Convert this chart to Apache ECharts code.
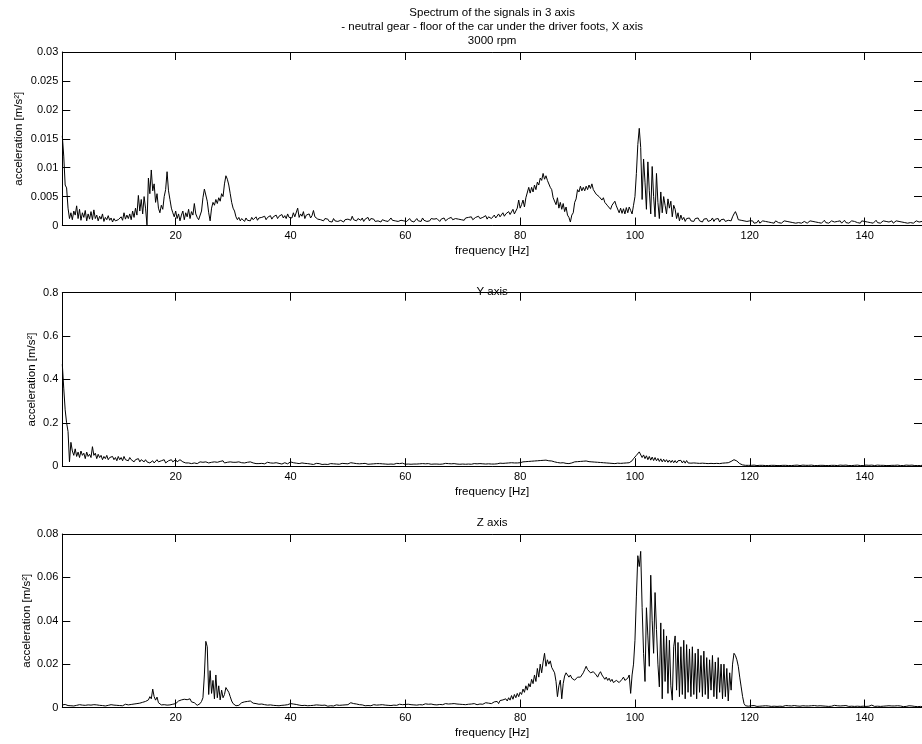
<!DOCTYPE html>
<html><head><meta charset="utf-8">
<script src="https://cdn.jsdelivr.net/npm/echarts@6/dist/echarts.min.js"></script>
<style>html,body{margin:0;padding:0;background:#fff}#c{width:922px;height:744px}</style>
</head><body><div id="c"></div>
<script>
// frequency grid of the spectra (Hz)
const freqStart = 0.25, freqStep = 0.25;
const xTicks = [20, 40, 60, 80, 100, 120, 140];

// X axis spectrum [m/s^2], 0.25 Hz steps, 20 values per 5 Hz row
const accelX = [
.0155,.0120,.0070,.0065,.0030,.0012,.0022,.0010,.0025,.0018,.0034,.0012,.0028,.0009,.0022,.0014,.0026,.0008,.0020,.0011,
.0024,.0010,.0027,.0012,.0018,.0008,.0016,.0011,.0020,.0007,.0014,.0010,.0017,.0009,.0013,.0006,.0012,.0008,.0005,.0010,
.0007,.0015,.0009,.0022,.0011,.0018,.0012,.0020,.0010,.0025,.0014,.0030,.0018,.0052,.0025,.0045,.0020,.0050,.0030,.0001,
.0082,.0055,.0096,.0060,.0072,.0040,.0055,.0030,.0022,.0035,.0028,.0050,.0062,.0093,.0060,.0045,.0030,.0022,.0015,.0025,
.0012,.0020,.0008,.0018,.0025,.0010,.0022,.0015,.0028,.0012,.0024,.0018,.0038,.0020,.0014,.0010,.0012,.0025,.0048,.0063,
.0064,.0042,.0022,.0008,.0030,.0040,.0035,.0045,.0038,.0048,.0042,.0055,.0050,.0072,.0086,.0080,.0070,.0055,.0040,.0030,
.0025,.0015,.0010,.0014,.0008,.0012,.0010,.0007,.0013,.0009,.0012,.0008,.0014,.0010,.0011,.0015,.0009,.0013,.0010,.0014,
.0011,.0016,.0010,.0014,.0012,.0017,.0011,.0015,.0013,.0018,.0012,.0016,.0014,.0019,.0013,.0017,.0012,.0020,.0014,.0016,
.0013,.0022,.0015,.0018,.0030,.0014,.0020,.0016,.0024,.0012,.0018,.0015,.0020,.0013,.0017,.0026,.0015,.0018,.0011,.0014,
.0010,.0013,.0008,.0012,.0009,.0011,.0007,.0010,.0006,.0012,.0008,.0011,.0007,.0010,.0009,.0012,.0006,.0010,.0008,.0011,
.0014,.0009,.0016,.0010,.0013,.0008,.0012,.0015,.0009,.0013,.0007,.0011,.0010,.0014,.0008,.0012,.0009,.0011,.0007,.0010,
.0008,.0011,.0006,.0010,.0012,.0008,.0011,.0007,.0010,.0013,.0009,.0012,.0008,.0011,.0007,.0010,.0009,.0012,.0008,.0010,
.0007,.0010,.0012,.0008,.0011,.0006,.0009,.0012,.0008,.0010,.0007,.0013,.0009,.0011,.0007,.0010,.0008,.0012,.0009,.0011,
.0008,.0012,.0010,.0007,.0011,.0009,.0013,.0008,.0010,.0012,.0009,.0014,.0010,.0008,.0012,.0009,.0011,.0013,.0010,.0012,
.0009,.0013,.0010,.0014,.0011,.0015,.0010,.0012,.0014,.0011,.0016,.0012,.0010,.0014,.0012,.0017,.0011,.0015,.0013,.0012,
.0014,.0018,.0013,.0016,.0020,.0015,.0018,.0022,.0016,.0020,.0018,.0024,.0019,.0022,.0028,.0020,.0025,.0030,.0044,.0030,
.0036,.0044,.0032,.0048,.0050,.0066,.0056,.0066,.0058,.0070,.0062,.0075,.0070,.0082,.0078,.0090,.0080,.0086,.0078,.0080,
.0066,.0062,.0048,.0050,.0036,.0048,.0030,.0040,.0028,.0038,.0024,.0032,.0018,.0014,.0006,.0018,.0022,.0040,.0046,.0062,
.0058,.0068,.0060,.0066,.0060,.0068,.0062,.0070,.0064,.0072,.0062,.0062,.0054,.0057,.0050,.0053,.0044,.0048,.0040,.0042,
.0034,.0035,.0028,.0035,.0033,.0042,.0034,.0032,.0022,.0030,.0021,.0029,.0020,.0031,.0022,.0032,.0026,.0020,.0035,.0050,
.0090,.0140,.0168,.0135,.0045,.0115,.0075,.0028,.0110,.0060,.0020,.0102,.0050,.0015,.0090,.0040,.0012,.0058,.0022,.0050,
.0035,.0020,.0046,.0030,.0042,.0015,.0035,.0028,.0012,.0022,.0008,.0018,.0010,.0014,.0007,.0012,.0009,.0013,.0008,.0011,
.0007,.0012,.0009,.0013,.0008,.0010,.0006,.0011,.0008,.0012,.0007,.0010,.0009,.0013,.0007,.0011,.0008,.0012,.0006,.0010,
.0008,.0011,.0007,.0010,.0009,.0012,.0008,.0015,.0020,.0024,.0018,.0010,.0007,.0009,.0006,.0008,.0005,.0007,.0006,.0008,
.0005,.0008,.0004,.0007,.0005,.0009,.0004,.0006,.0008,.0005,.0007,.0004,.0006,.0009,.0005,.0007,.0004,.0008,.0006,.0005,
.0007,.0004,.0006,.0008,.0005,.0007,.0004,.0006,.0009,.0005,.0006,.0004,.0007,.0005,.0008,.0004,.0006,.0007,.0005,.0004,
.0006,.0008,.0005,.0007,.0004,.0006,.0008,.0005,.0007,.0004,.0006,.0009,.0005,.0007,.0004,.0006,.0008,.0005,.0006,.0004,
.0007,.0005,.0008,.0004,.0006,.0009,.0005,.0007,.0004,.0006,.0008,.0005,.0007,.0010,.0005,.0006,.0004,.0008,.0005,.0007,
.0004,.0006,.0008,.0005,.0007,.0004,.0006,.0009,.0005,.0007,.0004,.0006,.0008,.0005,.0007,.0004,.0006,.0005,.0008,.0004,
.0006,.0008,.0005,.0007,.0004,.0006,.0008,.0005,.0007,.0004,.0006,.0005,.0007,.0004,.0006,.0008,.0005,.0006,.0004,.0007
];

// Y axis spectrum [m/s^2]
const accelY = [
.47,.36,.26,.20,.16,.02,.11,.07,.05,.08,.045,.065,.04,.07,.05,.06,.035,.065,.045,.055,
.04,.09,.05,.06,.035,.055,.04,.05,.03,.045,.035,.05,.03,.04,.035,.045,.03,.04,.025,.045,
.03,.04,.025,.045,.03,.035,.025,.04,.03,.035,.02,.03,.025,.035,.02,.03,.025,.02,.03,.02,
.025,.015,.02,.025,.015,.02,.03,.02,.015,.025,.02,.03,.015,.02,.025,.02,.03,.02,.025,.03,
.02,.025,.03,.035,.02,.025,.015,.02,.015,.02,.012,.018,.015,.02,.012,.015,.02,.015,.018,.025,
.02,.028,.015,.02,.018,.015,.02,.012,.018,.015,.022,.018,.025,.015,.02,.018,.012,.02,.015,.018,
.012,.018,.015,.02,.012,.016,.02,.015,.012,.018,.014,.02,.012,.015,.018,.012,.015,.012,.016,.013,
.015,.011,.014,.018,.012,.015,.01,.014,.012,.016,.011,.013,.015,.01,.012,.016,.013,.011,.015,.02,
.012,.016,.01,.014,.018,.012,.01,.015,.011,.013,.009,.012,.014,.01,.012,.008,.011,.013,.009,.012,
.01,.008,.011,.009,.012,.008,.01,.012,.009,.011,.008,.01,.012,.009,.011,.013,.01,.012,.015,.011,
.013,.016,.012,.014,.01,.012,.015,.011,.009,.012,.01,.013,.011,.009,.012,.01,.014,.011,.009,.012,
.01,.012,.009,.011,.013,.01,.012,.009,.011,.01,.012,.009,.011,.013,.01,.012,.01,.014,.011,.009,
.011,.01,.012,.009,.011,.01,.012,.01,.009,.011,.01,.012,.009,.011,.01,.012,.011,.009,.011,.01,
.012,.01,.011,.009,.012,.01,.011,.013,.01,.012,.009,.011,.01,.012,.011,.01,.012,.009,.011,.01,
.011,.009,.012,.01,.011,.009,.01,.012,.01,.011,.009,.012,.01,.011,.013,.01,.012,.011,.013,.01,
.012,.01,.013,.011,.012,.014,.012,.013,.011,.014,.012,.015,.013,.016,.014,.015,.017,.015,.018,.016,
.018,.02,.019,.021,.02,.022,.021,.023,.022,.024,.023,.025,.024,.026,.025,.027,.026,.028,.027,.025,
.026,.024,.022,.02,.019,.017,.016,.015,.014,.016,.015,.013,.014,.012,.013,.015,.018,.02,.022,.021,
.023,.022,.024,.023,.022,.024,.023,.021,.022,.02,.021,.019,.02,.018,.019,.017,.018,.016,.017,.015,
.016,.014,.015,.013,.014,.012,.013,.014,.012,.013,.011,.014,.012,.015,.013,.016,.02,.025,.035,.04,
.05,.058,.066,.062,.04,.052,.035,.048,.03,.045,.028,.042,.026,.04,.025,.036,.022,.034,.02,.032,
.02,.03,.018,.028,.017,.027,.016,.026,.015,.025,.016,.027,.015,.025,.014,.026,.015,.024,.014,.022,
.015,.023,.014,.021,.013,.02,.014,.019,.013,.018,.012,.017,.013,.016,.012,.015,.013,.014,.012,.013,
.014,.013,.015,.014,.016,.018,.022,.027,.03,.028,.024,.018,.012,.008,.006,.005,.004,.005,.004,.005,
.004,.003,.005,.004,.003,.005,.004,.003,.004,.005,.003,.004,.003,.005,.004,.003,.004,.005,.003,.004,
.003,.005,.004,.003,.004,.005,.003,.004,.003,.005,.004,.003,.005,.004,.003,.004,.005,.003,.004,.003,
.004,.003,.005,.004,.003,.004,.003,.005,.004,.003,.004,.005,.003,.004,.003,.005,.004,.003,.004,.005,
.003,.004,.005,.003,.004,.003,.005,.004,.003,.004,.003,.005,.004,.003,.005,.004,.003,.004,.003,.004,
.005,.003,.004,.003,.005,.004,.003,.004,.005,.003,.004,.003,.004,.005,.003,.004,.003,.005,.004,.003,
.004,.003,.005,.004,.003,.004,.003,.004,.005,.003,.004,.003,.005,.004,.003,.004,.003,.004,.003,.004
];

// Z axis spectrum [m/s^2]
const accelZ = [
.0012,.0008,.0014,.0010,.0009,.0013,.0008,.0011,.0007,.0012,.0010,.0008,.0013,.0009,.0011,.0014,.0010,.0008,.0012,.0009,
.0011,.0007,.0013,.0009,.0012,.0008,.0010,.0014,.0009,.0011,.0007,.0012,.0010,.0008,.0013,.0009,.0011,.0007,.0010,.0012,
.0009,.0013,.0008,.0011,.0015,.0010,.0012,.0009,.0014,.0011,.0016,.0012,.0018,.0014,.0020,.0016,.0024,.0018,.0028,.0022,
.0035,.0050,.0040,.0085,.0050,.0034,.0048,.0022,.0016,.0012,.0009,.0013,.0008,.0011,.0007,.0012,.0009,.0015,.0011,.0018,
.0014,.0030,.0022,.0035,.0028,.0038,.0030,.0036,.0032,.0040,.0026,.0034,.0022,.0015,.0010,.0012,.0018,.0028,.0045,.0150,
.0305,.0280,.0060,.0170,.0065,.0125,.0040,.0150,.0045,.0100,.0035,.0080,.0045,.0060,.0092,.0085,.0070,.0050,.0030,.0018,
.0012,.0008,.0014,.0010,.0018,.0022,.0016,.0026,.0020,.0028,.0022,.0030,.0024,.0020,.0026,.0018,.0022,.0015,.0012,.0016,
.0010,.0013,.0008,.0011,.0009,.0012,.0007,.0010,.0013,.0009,.0011,.0008,.0012,.0010,.0014,.0011,.0009,.0013,.0010,.0018,
.0012,.0016,.0020,.0014,.0018,.0011,.0015,.0009,.0013,.0010,.0012,.0008,.0011,.0009,.0013,.0010,.0008,.0012,.0009,.0011,
.0008,.0010,.0007,.0011,.0009,.0006,.0010,.0008,.0011,.0007,.0009,.0012,.0008,.0010,.0007,.0011,.0009,.0012,.0010,.0013,
.0011,.0022,.0015,.0018,.0012,.0016,.0010,.0013,.0009,.0012,.0010,.0008,.0011,.0009,.0012,.0008,.0010,.0013,.0009,.0011,
.0010,.0012,.0009,.0013,.0010,.0011,.0014,.0010,.0012,.0009,.0013,.0011,.0014,.0010,.0012,.0015,.0011,.0013,.0010,.0014,
.0012,.0015,.0011,.0013,.0016,.0012,.0014,.0011,.0015,.0013,.0016,.0012,.0014,.0017,.0013,.0015,.0012,.0016,.0014,.0013,
.0015,.0012,.0016,.0014,.0017,.0013,.0015,.0018,.0014,.0016,.0013,.0017,.0015,.0018,.0014,.0016,.0019,.0015,.0017,.0014,
.0016,.0013,.0017,.0015,.0012,.0016,.0014,.0018,.0015,.0013,.0017,.0016,.0019,.0015,.0018,.0022,.0017,.0020,.0024,.0018,
.0022,.0026,.0020,.0028,.0018,.0032,.0024,.0035,.0028,.0040,.0030,.0045,.0034,.0055,.0038,.0060,.0045,.0065,.0050,.0070,
.0060,.0085,.0070,.0100,.0080,.0110,.0095,.0130,.0110,.0150,.0120,.0180,.0140,.0200,.0160,.0210,.0250,.0190,.0220,.0200,
.0215,.0185,.0190,.0160,.0120,.0050,.0100,.0126,.0040,.0110,.0145,.0160,.0150,.0140,.0150,.0135,.0140,.0126,.0135,.0140,
.0145,.0140,.0150,.0160,.0175,.0190,.0175,.0170,.0160,.0155,.0165,.0170,.0150,.0140,.0155,.0165,.0150,.0140,.0130,.0140,
.0125,.0135,.0120,.0130,.0115,.0110,.0125,.0134,.0115,.0120,.0130,.0140,.0125,.0120,.0135,.0150,.0065,.0150,.0200,.0310,
.0510,.0700,.0650,.0720,.0460,.0250,.0120,.0460,.0330,.0190,.0610,.0400,.0250,.0530,.0360,.0200,.0095,.0390,.0040,.0360,
.0120,.0330,.0065,.0310,.0100,.0034,.0280,.0330,.0080,.0300,.0050,.0280,.0060,.0310,.0040,.0290,.0070,.0270,.0050,.0280,
.0060,.0250,.0040,.0270,.0070,.0240,.0050,.0260,.0060,.0230,.0040,.0220,.0080,.0240,.0050,.0210,.0040,.0230,.0070,.0200,
.0040,.0200,.0050,.0180,.0030,.0160,.0080,.0200,.0250,.0240,.0220,.0190,.0140,.0095,.0050,.0018,.0008,.0012,.0006,.0010,
.0008,.0006,.0009,.0007,.0005,.0008,.0006,.0009,.0007,.0005,.0008,.0006,.0007,.0009,.0005,.0007,.0006,.0008,.0005,.0007,
.0006,.0008,.0005,.0007,.0009,.0006,.0008,.0005,.0007,.0006,.0009,.0005,.0007,.0008,.0006,.0005,.0008,.0006,.0007,.0005,
.0007,.0005,.0008,.0006,.0009,.0005,.0007,.0006,.0008,.0005,.0007,.0009,.0006,.0008,.0005,.0007,.0006,.0008,.0010,.0006,
.0008,.0006,.0007,.0005,.0008,.0006,.0009,.0007,.0005,.0008,.0006,.0007,.0005,.0008,.0006,.0009,.0005,.0007,.0006,.0008,
.0005,.0007,.0006,.0009,.0011,.0007,.0005,.0008,.0006,.0007,.0005,.0008,.0006,.0009,.0007,.0005,.0008,.0006,.0007,.0005,
.0007,.0006,.0008,.0005,.0007,.0006,.0004,.0007,.0005,.0006,.0008,.0005,.0007,.0006,.0005,.0007,.0004,.0006,.0005,.0004
];

const mainTitle = 'Spectrum of the signals in 3 axis\n- neutral gear - floor of the car under the driver foots, X axis\n3000 rpm';
const panelTitles = [mainTitle, 'Y axis', 'Z axis'];
const panelSeries = [accelX, accelY, accelZ];
const yMaxes = [0.03, 0.8, 0.08];
const yIntervals = [0.005, 0.2, 0.02];
const xLabel = 'frequency [Hz]';
const yLabel = 'acceleration [m/s²]';

const FONT = '"Liberation Sans", Arial, Helvetica, sans-serif';
const gridTops = [52, 292.7, 534];
const titleGaps = [4, -6.5, 4.5];
const yNameGaps = [37.5, 24.5, 29.5];
const PH = 173.5;
const TICK = 8;
const line = { show: true, onZero: false, lineStyle: { color: '#000', width: 1 } };

const grid = [], xAxis = [], yAxis = [], series = [];
panelSeries.forEach((vals, i) => {
  grid.push({ left: 62.3, right: -4.7, top: gridTops[i], height: PH, containLabel: false });
  const xBase = { type: 'value', gridIndex: i, min: freqStart, max: 150, splitLine: { show: false },
    axisLine: line };
  xAxis.push(Object.assign({}, xBase, {
    position: 'bottom',
    axisTick: { show: true, inside: true, length: TICK, lineStyle: { color: '#000' }, customValues: xTicks },
    axisLabel: { show: true, customValues: xTicks, color: '#000', fontSize: 11, fontFamily: FONT, margin: 5 },
    name: xLabel, nameLocation: 'middle', nameGap: 19.5, nameMoveOverlap: false,
    nameTextStyle: { color: '#000', fontSize: 11.5, fontFamily: FONT }
  }));
  xAxis.push(Object.assign({}, xBase, {
    position: 'top',
    axisTick: { show: true, inside: true, length: TICK, lineStyle: { color: '#000' }, customValues: xTicks },
    axisLabel: { show: false },
    name: panelTitles[i], nameLocation: 'middle', nameGap: titleGaps[i], nameMoveOverlap: false,
    nameTextStyle: { color: '#000', fontSize: 11.5, fontFamily: FONT, lineHeight: 14, align: 'center' }
  }));
  const yBase = { type: 'value', gridIndex: i, min: 0, max: yMaxes[i], interval: yIntervals[i],
    splitLine: { show: false }, axisLine: line,
    axisTick: { show: true, inside: true, length: TICK, lineStyle: { color: '#000' } } };
  yAxis.push(Object.assign({}, yBase, {
    position: 'left',
    axisLabel: { color: '#000', fontSize: 11, fontFamily: FONT, margin: 4 },
    name: yLabel, nameLocation: 'middle', nameGap: yNameGaps[i], nameMoveOverlap: false,
    nameTextStyle: { color: '#000', fontSize: 11.5, fontFamily: FONT }
  }));
  yAxis.push(Object.assign({}, yBase, { position: 'right', axisLabel: { show: false } }));
  series.push({
    type: 'line', xAxisIndex: 2 * i, yAxisIndex: 2 * i,
    data: vals.map((v, k) => [freqStart + k * freqStep, v]),
    showSymbol: false, symbol: 'none', sampling: null,
    lineStyle: { color: '#000', width: 1 }, silent: true
  });
});

const chart = echarts.init(document.getElementById('c'), null, { renderer: 'canvas' });
chart.setOption({ animation: false, backgroundColor: '#fff', grid, xAxis, yAxis, series });
</script>
</body></html>
